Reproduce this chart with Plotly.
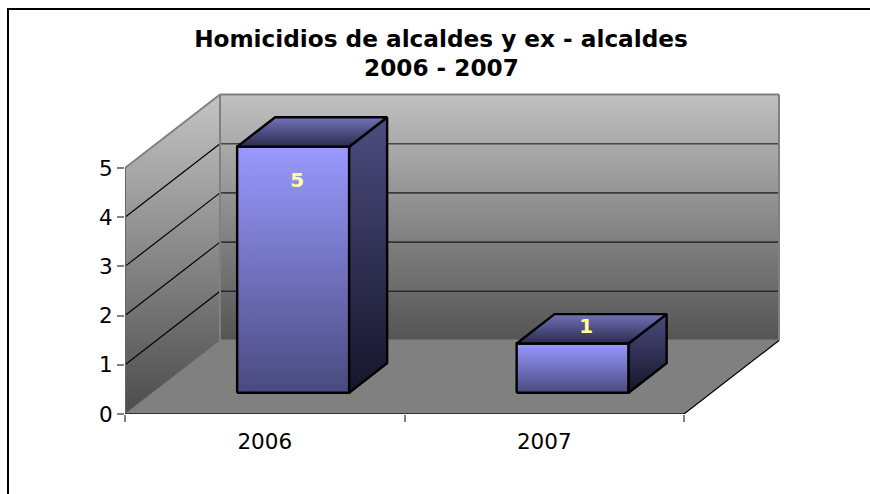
import plotly.graph_objects as go

# ---- data ----
categories = ["2006", "2007"]
values = [5, 1]
y_ticks = [0, 1, 2, 3, 4, 5]
title_line1 = "Homicidios de alcaldes y ex - alcaldes"
title_line2 = "2006 - 2007"

# ---- geometry of the oblique view (pixels) ----
W, H = 870, 494
L, R, T, B = 125, 790, 85, 414
UX, UY = 279.5, 49.2            # pixels per category / per unit value
DX, DY = 95 / UX, 73.5 / UY     # full chart depth expressed in axis units
D0, D1 = 0.29, 0.69             # bar depth slots
HALF = 56 / UX                  # half bar width
SHIFT = 0.003
YMAX = 5
NCAT = len(categories)


def proj(x, y, d=0.0):
    return x + d * DX, y + d * DY


def poly(points):
    xs, ys = zip(*(proj(*p) for p in points + points[:1]))
    return list(xs), list(ys)


fig = go.Figure()


def face(points, stops=None, solid=None, line=None, lw=0):
    xs, ys = poly(points)
    kw = dict(x=xs, y=ys, mode="lines", fill="toself", hoverinfo="skip", showlegend=False,
              cliponaxis=False, line=dict(color=line or "rgba(0,0,0,0)", width=lw))
    if solid:
        kw["fillcolor"] = solid
    else:
        kw["fillgradient"] = dict(type="vertical", colorscale=stops[0],
                                  start=stops[1], stop=stops[2])
        kw["fillcolor"] = "rgba(0,0,0,0)"
    fig.add_trace(go.Scatter(**kw))


def seg(a, b, color, width):
    (x0, y0), (x1, y1) = proj(*a), proj(*b)
    fig.add_trace(go.Scatter(x=[x0, x1], y=[y0, y1], mode="lines", hoverinfo="skip",
                             showlegend=False, cliponaxis=False,
                             line=dict(color=color, width=width)))


# back wall
face([(0, 0, 1), (NCAT, 0, 1), (NCAT, YMAX, 1), (0, YMAX, 1)],
     stops=([[0, "#545454"], [1, "#c0c0c0"]], DY, YMAX + DY))
# left wall
face([(0, 0, 0), (0, 0, 1), (0, YMAX, 1), (0, YMAX, 0)],
     stops=([[0, "#4c4c4c"], [1, "#c4c4c4"]], 0, YMAX + DY))
# floor
face([(0, 0, 0), (NCAT, 0, 0), (NCAT, 0, 1), (0, 0, 1)], solid="#808080")

# grid lines
for v in y_ticks[1:-1]:
    seg((0, v, 1), (NCAT, v, 1), "rgba(0,0,0,0.6)", 1.6)
    seg((0, v, 0), (0, v, 1), "#000000", 1.2)

# wall edges
seg((0, YMAX, 0), (0, YMAX, 1), "#808080", 2)
seg((0, YMAX, 1), (NCAT, YMAX, 1), "#808080", 2)
seg((NCAT, 0, 1), (NCAT, YMAX, 1), "#808080", 2)
seg((0, 0, 1), (0, YMAX, 1), "#808080", 2)
seg((0, 0, 1), (NCAT, 0, 1), "#808080", 2)
seg((0, 0, 0), (0, 0, 1), "#6e6e6e", 1)
seg((NCAT, 0, 0), (NCAT, 0, 1), "#000000", 1.2)

# axis lines
seg((0, 0, 0), (0, YMAX, 0), "#666666", 2)
seg((0, 0, 0), (NCAT, 0, 0), "#333333", 2)

# bars
FRONT = [[0, "#4a4a80"], [1, "#9999ff"]]
SIDE = [[0, "#15152a"], [1, "#4c4c80"]]
TOP = [[0, "#2b2b4d"], [1, "#7272bb"]]
EDGE = 2.4
for i, v in enumerate(values):
    a, b = i + 0.5 + SHIFT - HALF, i + 0.5 + SHIFT + HALF
    dy0, dy1 = D0 * DY, D1 * DY
    face([(a, 0, D0), (b, 0, D0), (b, v, D0), (a, v, D0)],
         stops=(FRONT, dy0, dy0 + v), line="#000000", lw=EDGE)
    face([(b, 0, D0), (b, 0, D1), (b, v, D1), (b, v, D0)],
         stops=(SIDE, dy0, dy1 + v), line="#000000", lw=EDGE)
    face([(a, v, D0), (b, v, D0), (b, v, D1), (a, v, D1)],
         stops=(TOP, dy0 + v, dy1 + v), line="#000000", lw=EDGE)

# value labels, set relative to the top-front edge of each bar
LABEL_DX = [4, 13.5]
LABEL_DY = [-35, 15]
for i, v in enumerate(values):
    x, y = proj(i + 0.5 + SHIFT, v, D0)
    fig.add_trace(go.Scatter(x=[x + LABEL_DX[i] / UX], y=[y + LABEL_DY[i] / UY], mode="text",
                             text=["<b>" + str(v) + "</b>"], textposition="middle center", hoverinfo="skip",
                             showlegend=False, cliponaxis=False,
                             textfont=dict(family="DejaVu Sans", size=20, color="#ffff99")))


def px(v):
    return (v - L) / (R - L)


def py(v):
    return (B - v) / (B - T)


fig.update_layout(
    width=W, height=H, autosize=False,
    margin=dict(l=L, r=W - R, t=T, b=H - B),
    paper_bgcolor="#ffffff", plot_bgcolor="#ffffff",
    showlegend=False,
    font=dict(family="DejaVu Sans", color="#000000", size=21),
    title=dict(text="<b>" + title_line1 + "</b>", x=px(441), xref="paper", xanchor="center",
               y=1 - 39 / H, yanchor="middle", font=dict(family="DejaVu Sans", size=23.2, color="#000000")),
    annotations=[dict(text="<b>" + title_line2 + "</b>", x=px(441), y=py(68), xref="paper", yref="paper",
                      xanchor="center", yanchor="middle", showarrow=False,
                      font=dict(family="DejaVu Sans", size=23.2, color="#000000"))],
    xaxis=dict(range=[0, (R - L) / UX], fixedrange=True, showgrid=False, zeroline=False, showline=False,
               tickmode="array", tickvals=[i + 0.5 for i in range(NCAT)], ticktext=categories,
               ticks="", ticklabelstandoff=12, tickfont=dict(size=21.5),
               minor=dict(tickmode="array", tickvals=list(range(NCAT + 1)), ticks="outside",
                          ticklen=7, tickcolor="#808080", tickwidth=2, showgrid=False)),
    yaxis=dict(range=[0, (B - T) / UY], fixedrange=True, showgrid=False, zeroline=False, showline=False,
               tickmode="array", tickvals=y_ticks, ticktext=[str(t) for t in y_ticks],
               ticks="outside", ticklen=7, tickcolor="#808080", tickwidth=2, tickfont=dict(size=21.5)),
    shapes=[
        dict(type="line", xref="paper", yref="paper", x0=px(8), x1=px(8), y0=py(9), y1=py(H),
             line=dict(color="#000000", width=2)),
        dict(type="line", xref="paper", yref="paper", x0=px(7), x1=px(W), y0=py(9), y1=py(9),
             line=dict(color="#000000", width=2)),
    ],
)

fig.write_html("out.html", config={"displayModeBar": False},
               post_script="document.body.style.margin='0';document.body.style.overflow='hidden';")
